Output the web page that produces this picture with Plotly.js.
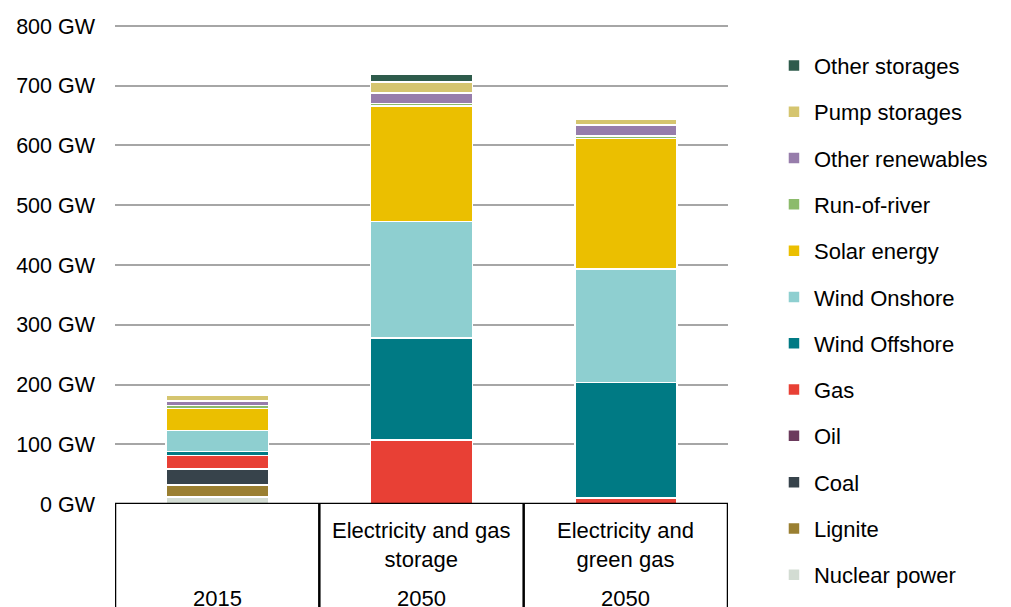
<!DOCTYPE html>
<html>
<head>
<meta charset="utf-8">
<script src="https://cdn.plot.ly/plotly-3.0.1.min.js"></script>
<style>
  html, body { margin: 0; padding: 0; background: #ffffff; }
  #chart { width: 1011px; height: 607px; }
</style>
</head>
<body>
<div id="chart"></div>
<script>
// Installed capacity by technology, in GW
const categories = ["2015", "Electricity and gas storage 2050", "Electricity and green gas 2050"];
const scenarioLabels = ["", "Electricity and gas<br>storage", "Electricity and<br>green gas"];
const yearLabels = ["2015", "2050", "2050"];

const technologies = [
  "Nuclear power", "Lignite", "Coal", "Oil", "Gas", "Wind Offshore",
  "Wind Onshore", "Solar energy", "Run-of-river", "Other renewables",
  "Pump storages", "Other storages"
];

const nuclear        = [11.5, 0, 0];
const lignite        = [20, 0, 0];
const coal           = [27.5, 0, 0];
const oil            = [0, 0, 0];
const gas            = [22.5, 107, 10];
const windOffshore   = [6, 171, 193];
const windOnshore    = [35.5, 195, 190];
const solar          = [37, 193, 219];
const runOfRiver     = [5, 4, 4];
const otherRenew     = [7, 18, 18];
const pumpStorages   = [9.5, 18, 10];
const otherStorages  = [0, 14, 0];

const yTicks = [0, 100, 200, 300, 400, 500, 600, 700, 800];
const yTickLabels = yTicks.map(v => v + " GW");

const seriesValues = [nuclear, lignite, coal, oil, gas, windOffshore,
  windOnshore, solar, runOfRiver, otherRenew, pumpStorages, otherStorages];

const colors = [
  "#d3dcd3", "#9a7f31", "#37434b", "#6b3a5c", "#e84035", "#007a84",
  "#8ecfd0", "#ebbf00", "#8cbb6b", "#977dab", "#d5c56f", "#2e5b4b"
];

const FONT = "Liberation Sans, Arial, sans-serif";

// Stack from the bottom up; the legend lists the top of the stack first
const traces = technologies.map((name, i) => ({
  type: "bar",
  name: name,
  x: categories,
  y: seriesValues[i],
  legendgroup: "g" + i,
  legendrank: technologies.length - i,
  marker: { color: colors[i], line: { color: "#ffffff", width: 1.5 } },
  hoverinfo: "name+y"
}));

// Table frame below the bars
const shapes = [];
[-0.5, 0.5, 1.5, 2.5].forEach(xv => {
  shapes.push({
    type: "line", xref: "x", yref: "paper",
    x0: xv, x1: xv, y0: 0, y1: -0.3,
    line: { color: "#000000", width: 2.5 }
  });
});
shapes.push({
  type: "line", xref: "paper", yref: "y",
  x0: 0, x1: 1, y0: 0, y1: 0,
  line: { color: "#000000", width: 2.5 }
});

const annotations = [];
categories.forEach((c, i) => {
  if (scenarioLabels[i]) {
    annotations.push({
      xref: "x", yref: "paper", x: i, y: -0.086,
      text: scenarioLabels[i], showarrow: false,
      xanchor: "center", yanchor: "middle",
      font: { family: FONT, size: 22, color: "#000000" }
    });
  }
  annotations.push({
    xref: "x", yref: "paper", x: i, y: -0.196,
    text: yearLabels[i], showarrow: false,
    xanchor: "center", yanchor: "middle",
    font: { family: FONT, size: 22, color: "#000000" }
  });
});

const layout = {
  width: 1011,
  height: 607,
  margin: { l: 115, r: 283, t: 23, b: 103, pad: 0 },
  paper_bgcolor: "#ffffff",
  plot_bgcolor: "#ffffff",
  barmode: "stack",
  bargap: 0.5,
  font: { family: FONT, size: 21, color: "#000000" },
  showlegend: true,
  legend: {
    x: 1.075, y: 0.955, xanchor: "left", yanchor: "top",
    traceorder: "grouped",
    tracegroupgap: 14.7,
    maxheight: 900,
    font: { family: FONT, size: 22, color: "#000000" },
    bgcolor: "rgba(0,0,0,0)"
  },
  xaxis: {
    type: "category",
    categoryorder: "array",
    categoryarray: categories,
    range: [-0.5, 2.5],
    showticklabels: false,
    showgrid: false,
    zeroline: false,
    showline: false,
    ticks: ""
  },
  yaxis: {
    range: [0, 805],
    tickvals: yTicks,
    ticktext: yTickLabels,
    showgrid: true,
    gridcolor: "#a6a6a6",
    gridwidth: 2,
    zeroline: false,
    showline: false,
    ticks: "",
    ticklabelstandoff: 19,
    tickfont: { family: FONT, size: 21.5, color: "#000000" }
  },
  shapes: shapes,
  annotations: annotations
};

Plotly.newPlot("chart", traces, layout, { displayModeBar: false, staticPlot: true });
</script>
</body>
</html>
